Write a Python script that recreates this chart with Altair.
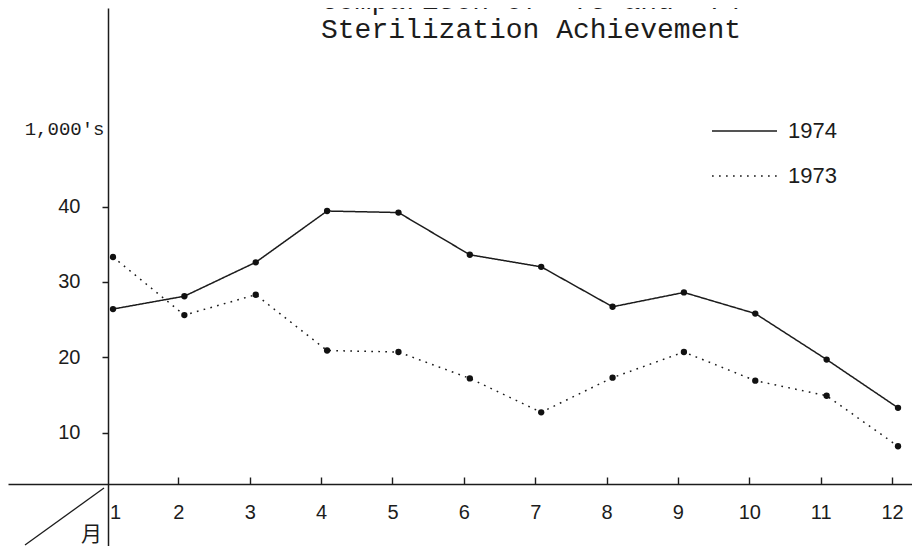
import altair as alt
import pandas as pd

# ---- data ----
months = list(range(1, 13))
series_names = ["1974", "1973"]
values_1974 = [26.4, 28.1, 32.6, 39.4, 39.2, 33.6, 32.0, 26.7, 28.6, 25.8, 19.7, 13.3]
values_1973 = [33.3, 25.6, 28.3, 20.9, 20.7, 17.2, 12.7, 17.3, 20.7, 16.9, 14.9, 8.2]
y_tick_values = [10, 20, 30, 40]
y_unit_label = "1,000′s"
x_title = "月"
title_lines = ["Comparison of '73 and '74", "Sterilization Achievement"]

rows = []
for name, vals in zip(series_names, [values_1974, values_1973]):
    for m, v in zip(months, vals):
        rows.append({"month": m, "value": v, "series": name})
df = pd.DataFrame(rows)

W, H = 904, 538
INK = "#1c1c1c"
NUM_FONT = "Liberation Sans"
TYPE_FONT = "Liberation Mono"
X_AXIS_Y = 476   # plot-area y of the horizontal axis
Y_AXIS_X = 100   # plot-area x of the vertical axis

x_scale = alt.Scale(domain=[-0.4713, 12.196], nice=False, zero=False)
y_scale = alt.Scale(domain=[-5.03, 66.33], nice=False, zero=False)

y_axis = alt.Axis(
    orient="left", offset=-Y_AXIS_X, values=y_tick_values, format="d", grid=False,
    labelFont=NUM_FONT, labelFontSize=20, labelColor=INK, labelPadding=22,
    tickSize=6, tickWidth=1.5, tickColor=INK,
    domainColor=INK, domainWidth=1.5,
    title=y_unit_label, titleAngle=0, titleX=-4, titleY=120,
    titleAlign="right", titleBaseline="middle",
    titleFont=TYPE_FONT, titleFontSize=19, titleFontWeight="normal", titleColor=INK,
)

x_axis_bottom = alt.Axis(
    orient="bottom", offset=X_AXIS_Y - H, values=months, format="d", grid=False,
    ticks=False, tickSize=0, labelPadding=18,
    labelOffset={"condition": {"test": "datum.value == 1", "value": 2}, "value": -6},
    labelFont=NUM_FONT, labelFontSize=20, labelColor=INK,
    domainColor=INK, domainWidth=1.5,
    title=x_title, titleX=83, titleY=50, titleAlign="center", titleBaseline="middle",
    titleFont="Noto Sans CJK JP", titleFontSize=21, titleFontWeight="normal", titleColor=INK,
)

x_axis_top = alt.Axis(
    orient="top", offset=-X_AXIS_Y, values=months, grid=False, labels=False, domain=False,
    ticks=True, tickSize=7, tickWidth=1.4, tickColor=INK, tickOffset=-6,
    tickOpacity={"condition": {"test": "datum.value == 1", "value": 0}, "value": 1},
    title=None,
)

lines = alt.Chart(df).mark_line(color=INK, strokeWidth=1.5, strokeCap="butt").encode(
    x=alt.X("month:Q", scale=x_scale, axis=x_axis_bottom),
    y=alt.Y("value:Q", scale=y_scale, axis=y_axis),
    strokeDash=alt.StrokeDash(
        "series:N",
        scale=alt.Scale(domain=series_names, range=[[1, 0], [1.7, 5.3]]),
        legend=alt.Legend(
            orient="none", legendX=703, legendY=89.5, title=None, padding=0,
            symbolType="stroke", symbolSize=4225, symbolStrokeWidth=1.4,
            symbolStrokeColor=INK, labelFont=NUM_FONT, labelFontSize=22,
            labelColor=INK, labelOffset=10, rowPadding=-21,
        ),
    ),
    detail="series:N",
)

points = alt.Chart(df).mark_point(filled=True, size=40, color="#111", opacity=1).encode(
    x=alt.X("month:Q", scale=x_scale, axis=x_axis_top),
    y=alt.Y("value:Q", scale=y_scale, axis=y_axis),
)

one = pd.DataFrame({"k": [0]})
diagonal = alt.Chart(one).mark_rule(color=INK, strokeWidth=1.3).encode(
    x=alt.value(17), x2=alt.value(96), y=alt.value(537), y2=alt.value(480)
)

title = alt.Chart(one).mark_text(
    text=title_lines, font=TYPE_FONT, fontSize=28, lineHeight=29,
    align="center", baseline="alphabetic", color=INK,
).encode(x=alt.value(523), y=alt.value(1))

chart = (
    alt.layer(lines, points, diagonal, title)
    .resolve_axis(x="independent")
    .properties(width=W, height=H, autosize=alt.AutoSizeParams(type="none"), padding=0,
                background="white")
    .configure_view(stroke=None)
    .configure_axis(labelFont=NUM_FONT)
)

chart.save("out.html", embed_options={"renderer": "svg", "actions": False})
